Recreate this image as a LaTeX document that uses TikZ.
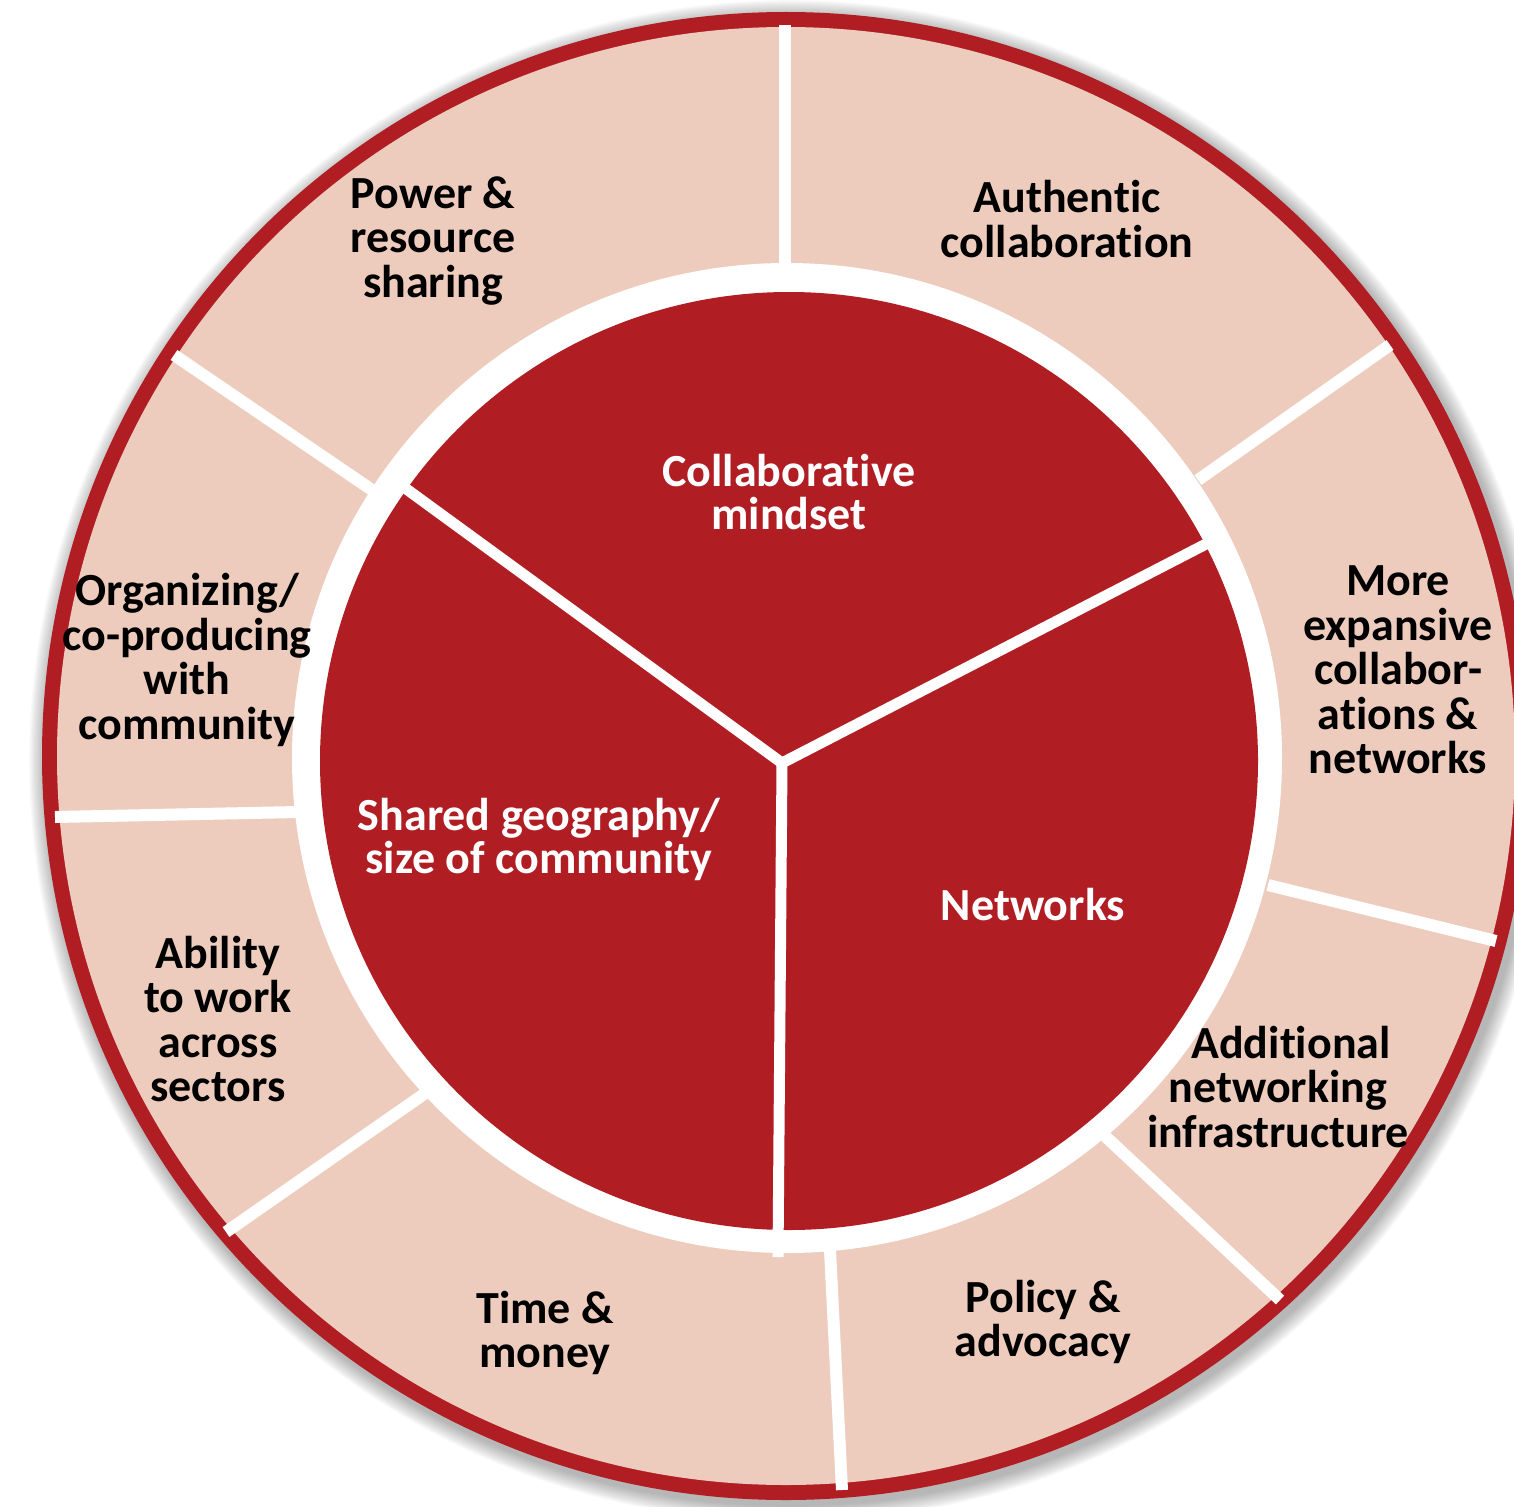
\documentclass[tikz,border=0pt]{standalone}
\usepackage{fontspec}
\setmainfont{Carlito}[Ligatures=NoCommon]
\definecolor{wheelred}{RGB}{176,30,36}
\definecolor{wheelpink}{RGB}{237,204,189}
\tikzset{
  outerlabel/.style={text=black,align=center,font=\bfseries\fontsize{46}{44.5}\selectfont,inner sep=0pt},
  innerlabel/.style={text=white,align=center,font=\bfseries\fontsize{46}{43}\selectfont,inner sep=0pt},
  ringsep/.style={draw=white,line width=12pt},
  piesep/.style={draw=white,line width=11pt},
}
\begin{document}
\begin{tikzpicture}[x=1pt,y=-1pt]
\useasboundingbox (0,0) rectangle (1514,1506);
\clip (0,0) rectangle (1514,1506);
% shadow
\foreach \i in {1,...,14}{
  \fill[black,opacity=0.022] (790,761) circle[radius=744+\i*1.2];
}
% outer wheel
\fill[wheelred] (786,756) circle[radius=744];
\fill[wheelpink] (786,756) circle[radius=729];
\fill[white] (787,758) circle[radius=495];
\fill[wheelred] (789,761) circle[radius=469];
% ring separators
\coordinate (r1a) at (785,263);  \coordinate (r1b) at (785,25);
\coordinate (r2a) at (1198,480); \coordinate (r2b) at (1390,345);
\coordinate (r3a) at (1268,885); \coordinate (r3b) at (1496,941);
\coordinate (r4a) at (1105,1136);\coordinate (r4b) at (1280,1300);
\coordinate (r5a) at (830,1250); \coordinate (r5b) at (842,1490);
\coordinate (r6a) at (427,1092); \coordinate (r6b) at (226,1232);
\coordinate (r7a) at (298,812);  \coordinate (r7b) at (55,817);
\coordinate (r8a) at (375,492);  \coordinate (r8b) at (174,355);
\foreach \k in {1,...,8}{ \draw[ringsep] (r\k a) -- (r\k b); }
% pie separators
\coordinate (hub) at (782,763);
\coordinate (p1) at (405,488);
\coordinate (p2) at (1208,543);
\coordinate (p3) at (778,1257);
\draw[piesep,line join=miter] (p1) -- (hub) -- (p2);
\draw[piesep] (hub) -- (p3);
% inner labels
\node[innerlabel] (cm) at (789,492) {Collaborative\\mindset};
\node[innerlabel] (sg) at (539,839) {Shared geography/\\size of community};
\node[innerlabel] (nw) at (1033,905) {Networks};
% outer labels
\node[outerlabel] (pr) at (433,241) {Power \&\\resource\\sharing};
\node[outerlabel] (ac) at (1067,219) {Authentic\\collaboration};
\node[outerlabel] (me) at (1398,670) {More\\expansive\\collabor-\\ations \&\\networks};
\node[outerlabel] (an) at (1278,1087) {\hspace*{26pt}Additional\\networking\\infrastructure};
\node[outerlabel] (pa) at (1043,1322) {Policy \&\\advocacy};
\node[outerlabel] (tm) at (545,1333) {Time \&\\money};
\node[outerlabel] (ab) at (218,1019) {Ability\\to work\\across\\sectors};
\node[outerlabel] (oc) at (187,660) {Organizing/\\co-producing\\with\\community};
\end{tikzpicture}
\end{document}
